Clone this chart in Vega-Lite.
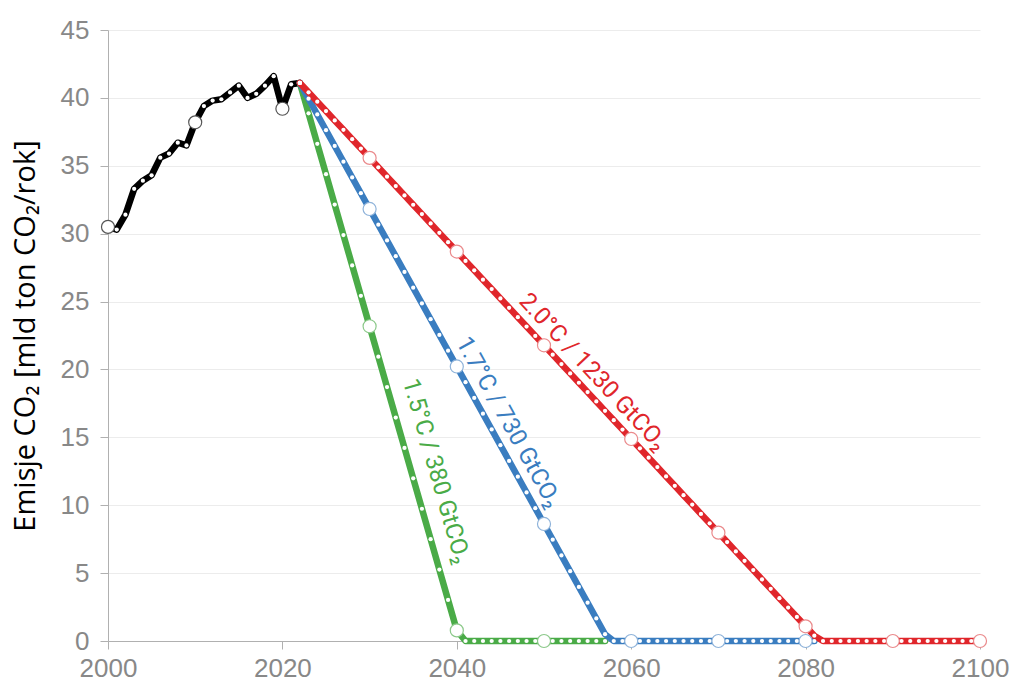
{
  "$schema": "https://vega.github.io/schema/vega-lite/v6.json",
  "width": 872,
  "height": 611,
  "autosize": {"type": "none"},
  "padding": {"left": 108, "top": 30, "right": 43, "bottom": 57},
  "background": "white",
  "config": {"view": {"stroke": null}},
  "datasets": {
    "series": [
      {"series":"hist","year":2000,"value":30.5},{"series":"hist","year":2001,"value":30.3},{"series":"hist","year":2002,"value":31.4},{"series":"hist","year":2003,"value":33.3},{"series":"hist","year":2004,"value":33.9},{"series":"hist","year":2005,"value":34.3},{"series":"hist","year":2006,"value":35.6},{"series":"hist","year":2007,"value":35.9},{"series":"hist","year":2008,"value":36.7},{"series":"hist","year":2009,"value":36.5},{"series":"hist","year":2010,"value":38.2},{"series":"hist","year":2011,"value":39.4},{"series":"hist","year":2012,"value":39.8},{"series":"hist","year":2013,"value":39.9},{"series":"hist","year":2014,"value":40.4},{"series":"hist","year":2015,"value":40.9},{"series":"hist","year":2016,"value":40.0},{"series":"hist","year":2017,"value":40.3},{"series":"hist","year":2018,"value":40.9},{"series":"hist","year":2019,"value":41.6},{"series":"hist","year":2020,"value":39.2},{"series":"hist","year":2021,"value":41.0},{"series":"hist","year":2022,"value":41.1},
      {"series":"1.5","year":2022,"value":41.1},{"series":"1.5","year":2023,"value":38.86},{"series":"1.5","year":2024,"value":36.62},{"series":"1.5","year":2025,"value":34.38},{"series":"1.5","year":2026,"value":32.14},{"series":"1.5","year":2027,"value":29.9},{"series":"1.5","year":2028,"value":27.66},{"series":"1.5","year":2029,"value":25.42},{"series":"1.5","year":2030,"value":23.18},{"series":"1.5","year":2031,"value":20.94},{"series":"1.5","year":2032,"value":18.7},{"series":"1.5","year":2033,"value":16.46},{"series":"1.5","year":2034,"value":14.22},{"series":"1.5","year":2035,"value":11.98},{"series":"1.5","year":2036,"value":9.74},{"series":"1.5","year":2037,"value":7.5},{"series":"1.5","year":2038,"value":5.26},{"series":"1.5","year":2039,"value":3.02},{"series":"1.5","year":2040,"value":0.78},{"series":"1.5","year":2041,"value":0},{"series":"1.5","year":2042,"value":0},{"series":"1.5","year":2043,"value":0},{"series":"1.5","year":2044,"value":0},{"series":"1.5","year":2045,"value":0},{"series":"1.5","year":2046,"value":0},{"series":"1.5","year":2047,"value":0},{"series":"1.5","year":2048,"value":0},{"series":"1.5","year":2049,"value":0},{"series":"1.5","year":2050,"value":0},{"series":"1.5","year":2051,"value":0},{"series":"1.5","year":2052,"value":0},{"series":"1.5","year":2053,"value":0},{"series":"1.5","year":2054,"value":0},{"series":"1.5","year":2055,"value":0},{"series":"1.5","year":2056,"value":0},{"series":"1.5","year":2057,"value":0},
      {"series":"1.7","year":2022,"value":41.1},{"series":"1.7","year":2023,"value":39.94},{"series":"1.7","year":2024,"value":38.78},{"series":"1.7","year":2025,"value":37.62},{"series":"1.7","year":2026,"value":36.46},{"series":"1.7","year":2027,"value":35.3},{"series":"1.7","year":2028,"value":34.14},{"series":"1.7","year":2029,"value":32.98},{"series":"1.7","year":2030,"value":31.82},{"series":"1.7","year":2031,"value":30.66},{"series":"1.7","year":2032,"value":29.5},{"series":"1.7","year":2033,"value":28.34},{"series":"1.7","year":2034,"value":27.18},{"series":"1.7","year":2035,"value":26.02},{"series":"1.7","year":2036,"value":24.86},{"series":"1.7","year":2037,"value":23.7},{"series":"1.7","year":2038,"value":22.54},{"series":"1.7","year":2039,"value":21.38},{"series":"1.7","year":2040,"value":20.22},{"series":"1.7","year":2041,"value":19.06},{"series":"1.7","year":2042,"value":17.9},{"series":"1.7","year":2043,"value":16.74},{"series":"1.7","year":2044,"value":15.58},{"series":"1.7","year":2045,"value":14.42},{"series":"1.7","year":2046,"value":13.26},{"series":"1.7","year":2047,"value":12.1},{"series":"1.7","year":2048,"value":10.94},{"series":"1.7","year":2049,"value":9.78},{"series":"1.7","year":2050,"value":8.62},{"series":"1.7","year":2051,"value":7.46},{"series":"1.7","year":2052,"value":6.3},{"series":"1.7","year":2053,"value":5.14},{"series":"1.7","year":2054,"value":3.98},{"series":"1.7","year":2055,"value":2.82},{"series":"1.7","year":2056,"value":1.66},{"series":"1.7","year":2057,"value":0.5},{"series":"1.7","year":2058,"value":0},{"series":"1.7","year":2059,"value":0},{"series":"1.7","year":2060,"value":0},{"series":"1.7","year":2061,"value":0},{"series":"1.7","year":2062,"value":0},{"series":"1.7","year":2063,"value":0},{"series":"1.7","year":2064,"value":0},{"series":"1.7","year":2065,"value":0},{"series":"1.7","year":2066,"value":0},{"series":"1.7","year":2067,"value":0},{"series":"1.7","year":2068,"value":0},{"series":"1.7","year":2069,"value":0},{"series":"1.7","year":2070,"value":0},{"series":"1.7","year":2071,"value":0},{"series":"1.7","year":2072,"value":0},{"series":"1.7","year":2073,"value":0},{"series":"1.7","year":2074,"value":0},{"series":"1.7","year":2075,"value":0},{"series":"1.7","year":2076,"value":0},{"series":"1.7","year":2077,"value":0},{"series":"1.7","year":2078,"value":0},{"series":"1.7","year":2079,"value":0},{"series":"1.7","year":2080,"value":0},{"series":"1.7","year":2081,"value":0},
      {"series":"2.0","year":2022,"value":41.1},{"series":"2.0","year":2023,"value":40.41},{"series":"2.0","year":2024,"value":39.72},{"series":"2.0","year":2025,"value":39.03},{"series":"2.0","year":2026,"value":38.34},{"series":"2.0","year":2027,"value":37.65},{"series":"2.0","year":2028,"value":36.96},{"series":"2.0","year":2029,"value":36.27},{"series":"2.0","year":2030,"value":35.58},{"series":"2.0","year":2031,"value":34.89},{"series":"2.0","year":2032,"value":34.2},{"series":"2.0","year":2033,"value":33.51},{"series":"2.0","year":2034,"value":32.82},{"series":"2.0","year":2035,"value":32.13},{"series":"2.0","year":2036,"value":31.44},{"series":"2.0","year":2037,"value":30.75},{"series":"2.0","year":2038,"value":30.06},{"series":"2.0","year":2039,"value":29.37},{"series":"2.0","year":2040,"value":28.68},{"series":"2.0","year":2041,"value":27.99},{"series":"2.0","year":2042,"value":27.3},{"series":"2.0","year":2043,"value":26.61},{"series":"2.0","year":2044,"value":25.92},{"series":"2.0","year":2045,"value":25.23},{"series":"2.0","year":2046,"value":24.54},{"series":"2.0","year":2047,"value":23.85},{"series":"2.0","year":2048,"value":23.16},{"series":"2.0","year":2049,"value":22.47},{"series":"2.0","year":2050,"value":21.78},{"series":"2.0","year":2051,"value":21.09},{"series":"2.0","year":2052,"value":20.4},{"series":"2.0","year":2053,"value":19.71},{"series":"2.0","year":2054,"value":19.02},{"series":"2.0","year":2055,"value":18.33},{"series":"2.0","year":2056,"value":17.64},{"series":"2.0","year":2057,"value":16.95},{"series":"2.0","year":2058,"value":16.26},{"series":"2.0","year":2059,"value":15.57},{"series":"2.0","year":2060,"value":14.88},{"series":"2.0","year":2061,"value":14.19},{"series":"2.0","year":2062,"value":13.5},{"series":"2.0","year":2063,"value":12.81},{"series":"2.0","year":2064,"value":12.12},{"series":"2.0","year":2065,"value":11.43},{"series":"2.0","year":2066,"value":10.74},{"series":"2.0","year":2067,"value":10.05},{"series":"2.0","year":2068,"value":9.36},{"series":"2.0","year":2069,"value":8.67},{"series":"2.0","year":2070,"value":7.98},{"series":"2.0","year":2071,"value":7.29},{"series":"2.0","year":2072,"value":6.6},{"series":"2.0","year":2073,"value":5.91},{"series":"2.0","year":2074,"value":5.22},{"series":"2.0","year":2075,"value":4.53},{"series":"2.0","year":2076,"value":3.84},{"series":"2.0","year":2077,"value":3.15},{"series":"2.0","year":2078,"value":2.46},{"series":"2.0","year":2079,"value":1.77},{"series":"2.0","year":2080,"value":1.08},{"series":"2.0","year":2081,"value":0.39},{"series":"2.0","year":2082,"value":0},{"series":"2.0","year":2083,"value":0},{"series":"2.0","year":2084,"value":0},{"series":"2.0","year":2085,"value":0},{"series":"2.0","year":2086,"value":0},{"series":"2.0","year":2087,"value":0},{"series":"2.0","year":2088,"value":0},{"series":"2.0","year":2089,"value":0},{"series":"2.0","year":2090,"value":0},{"series":"2.0","year":2091,"value":0},{"series":"2.0","year":2092,"value":0},{"series":"2.0","year":2093,"value":0},{"series":"2.0","year":2094,"value":0},{"series":"2.0","year":2095,"value":0},{"series":"2.0","year":2096,"value":0},{"series":"2.0","year":2097,"value":0},{"series":"2.0","year":2098,"value":0},{"series":"2.0","year":2099,"value":0},{"series":"2.0","year":2100,"value":0}
    ]
  },
  "layer": [
    {
      "data": {"name": "series"},
      "mark": {"type": "line", "strokeWidth": 6.5, "strokeCap": "round", "strokeJoin": "round"},
      "encoding": {
        "x": {"field": "year", "type": "quantitative", "scale": {"domain": [2000, 2100], "nice": false, "zero": false},
          "axis": {"values": [2000, 2020, 2040, 2060, 2080, 2100], "format": "d", "grid": false, "title": null, "labelFlush": false,
            "domainColor": "#b0b0b0", "tickColor": "#b0b0b0", "tickSize": 8, "labelFont": "Liberation Sans", "labelFontSize": 26, "labelColor": "#888888", "labelPadding": 6}},
        "y": {"field": "value", "type": "quantitative", "scale": {"domain": [0, 45], "nice": false},
          "axis": {"values": [0, 5, 10, 15, 20, 25, 30, 35, 40, 45], "grid": true, "gridColor": "#ececec", "title": "Emisje CO₂ [mld ton CO₂/rok]", "labelFlush": false,
            "titleFont": "Open Sans", "titleFontSize": 29, "titleFontWeight": "normal", "titleColor": "#000000", "titlePadding": 20,
            "domainColor": "#b0b0b0", "tickColor": "#b0b0b0", "tickSize": 8, "labelFont": "Liberation Sans", "labelFontSize": 26, "labelColor": "#888888", "labelPadding": 11}},
        "color": {"field": "series", "type": "nominal", "legend": null,
          "scale": {"domain": ["hist", "1.5", "1.7", "2.0"], "range": ["#000000", "#4aab47", "#3a7dc0", "#e0262b"]}},
        "order": {"field": "year", "type": "quantitative"}
      }
    },
    {
      "data": {"name": "series"},
      "transform": [{"filter": "datum.year % 10 != 0"}],
      "mark": {"type": "point", "filled": true, "color": "white", "size": 18, "opacity": 1},
      "encoding": {
        "x": {"field": "year", "type": "quantitative"},
        "y": {"field": "value", "type": "quantitative"}
      }
    },
    {
      "data": {"name": "series"},
      "transform": [{"filter": "datum.year % 10 == 0"}],
      "mark": {"type": "point", "filled": false, "fill": "white", "fillOpacity": 1, "size": 170, "strokeWidth": 1.2, "opacity": 1},
      "encoding": {
        "x": {"field": "year", "type": "quantitative"},
        "y": {"field": "value", "type": "quantitative"},
        "stroke": {"field": "series", "type": "nominal", "legend": null,
          "scale": {"domain": ["hist", "1.5", "1.7", "2.0"], "range": ["#555555", "#8cc98a", "#8fb3da", "#ea8a8c"]}}
      }
    },
    {
      "data": {"values": [{"series": "2.0", "year": 2055.6, "value": 19.8, "label": "2.0°C / 1230 GtCO₂"}]},
      "mark": {"type": "text", "angle": 47, "font": "Roboto", "fontSize": 24, "align": "center", "baseline": "middle"},
      "encoding": {
        "x": {"field": "year", "type": "quantitative"},
        "y": {"field": "value", "type": "quantitative"},
        "text": {"field": "label"},
        "color": {"field": "series", "type": "nominal", "legend": null}
      }
    },
    {
      "data": {"values": [{"series": "1.7", "year": 2045.9, "value": 16.1, "label": "1.7°C / 730 GtCO₂"}]},
      "mark": {"type": "text", "angle": 61, "font": "Roboto", "fontSize": 24, "align": "center", "baseline": "middle"},
      "encoding": {
        "x": {"field": "year", "type": "quantitative"},
        "y": {"field": "value", "type": "quantitative"},
        "text": {"field": "label"},
        "color": {"field": "series", "type": "nominal", "legend": null}
      }
    },
    {
      "data": {"values": [{"series": "1.5", "year": 2037.6, "value": 12.5, "label": "1.5°C / 380 GtCO₂"}]},
      "mark": {"type": "text", "angle": 74, "font": "Roboto", "fontSize": 24, "align": "center", "baseline": "middle"},
      "encoding": {
        "x": {"field": "year", "type": "quantitative"},
        "y": {"field": "value", "type": "quantitative"},
        "text": {"field": "label"},
        "color": {"field": "series", "type": "nominal", "legend": null}
      }
    }
  ]
}
